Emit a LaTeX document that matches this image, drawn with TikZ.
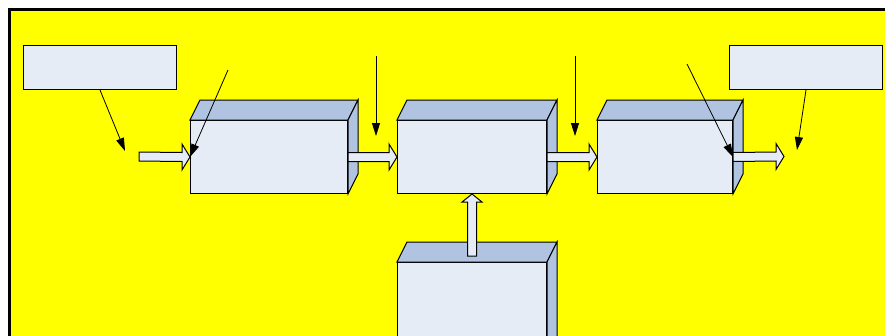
\documentclass[tikz,border=0pt]{standalone}
\usetikzlibrary{calc,arrows.meta}
\definecolor{facefront}{RGB}{230,236,246}
\definecolor{faceside}{RGB}{176,196,226}
\definecolor{backyellow}{RGB}{255,255,0}
\tikzset{
FRAME/.style ={draw=black,fill=backyellow,line width=3pt},
NOTE/.style ={draw=black,fill=facefront,line width=1pt,inner sep=0pt,anchor=north west,minimum width=153pt,minimum height=44pt},
FRONT/.style ={draw=black,fill=facefront,line width=1pt,inner sep=0pt,anchor=north west,minimum height=73pt},
SIDE/.style ={draw=black,fill=faceside,line width=1pt,line join=miter},
BLOCK/.style ={draw=black,fill=facefront,line width=1pt,line join=miter},
THIN/.style ={draw=black,line width=0.8pt,-{Triangle[length=13pt,width=8pt]}},
}
\newcommand{\cubeback}[1]{%
	\path[SIDE] (#1.north west) -- ++(10,-20) -- ($(#1.north east)+(10,-20)$) -- (#1.north east) -- cycle;
	\path[SIDE] (#1.north east) -- ++(10,-20) -- ($(#1.south east)+(10,-20)$) -- (#1.south east) -- cycle;}
\newcommand{\harrow}[2]{%
	\path[BLOCK] ($(#1)+(0,-4.5)$) -- ($(#2)+(-8,-4.5)$) -- ($(#2)+(-8,-13)$) -- (#2) -- ($(#2)+(-8,13)$) -- ($(#2)+(-8,4.5)$) -- ($(#1)+(0,4.5)$) -- cycle;}
\newcommand{\varrow}[2]{%
	\path[BLOCK] ($(#1)+(-4.5,0)$) -- ($(#2)+(-4.5,8)$) -- ($(#2)+(-10,8)$) -- (#2) -- ($(#2)+(10,8)$) -- ($(#2)+(4.5,8)$) -- ($(#1)+(4.5,0)$) -- cycle;}
\begin{document}
\begin{tikzpicture}[x=1pt, y=-1pt] %block chain
	\useasboundingbox (0,0) rectangle (885,335);
	\clip (0,0) rectangle (885,335);
	\path[FRAME] (9,9) rectangle (900,350);
	\node[NOTE] (noteL) at (23,45) {};
	\node[NOTE] (noteR) at (729,45) {};
	\node[FRONT,minimum width=157pt] (cubeA) at (190,120) {};
	\node[FRONT,minimum width=149pt] (cubeB) at (397,120) {};
	\node[FRONT,minimum width=135pt] (cubeC) at (597,120) {};
	\node[FRONT,minimum width=149pt,minimum height=110pt] (cubeD) at (397,262) {};
	\cubeback{cubeA}
	\cubeback{cubeB}
	\cubeback{cubeC}
	\cubeback{cubeD}
	\coordinate (inlet) at (139,156.5);
	\coordinate (outlet) at (784,156.5);
	\coordinate (riser) at ($(cubeD.north)+(0,-6)$);
	\harrow{inlet}{cubeA.west}
	\harrow{cubeA.east}{cubeB.west}
	\harrow{cubeB.east}{cubeC.west}
	\harrow{cubeC.east}{outlet}
	\varrow{riser}{cubeB.south}
	\coordinate (tipL) at (125,151);
	\coordinate (tipR) at (797,150);
	\coordinate (feedA) at (228,70);
	\coordinate (feedB) at (376,56);
	\coordinate (dropB) at (376,136);
	\coordinate (feedC) at (575,56);
	\coordinate (dropC) at (575,136);
	\coordinate (feedD) at (687,64);
	\path[THIN] (noteL.south) -- (tipL);
	\path[THIN] (noteR.south) -- (tipR);
	\path[THIN] (feedA) -- (cubeA.west);
	\path[THIN] (feedB) -- (dropB);
	\path[THIN] (feedC) -- (dropC);
	\path[THIN] (feedD) -- (cubeC.east);
\end{tikzpicture}
\end{document}
